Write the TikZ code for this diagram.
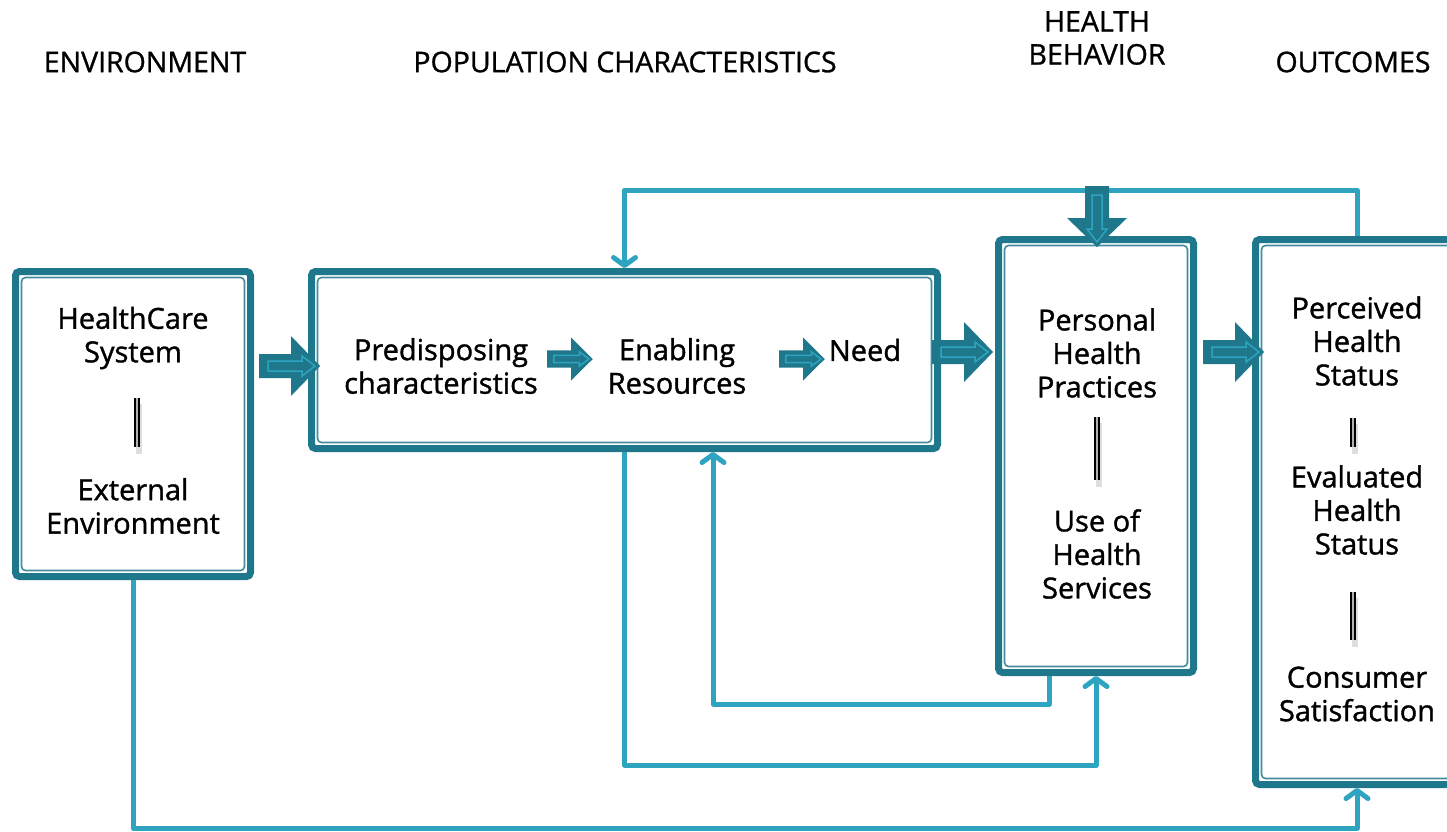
\documentclass[tikz,border=0pt]{standalone}
\usepackage{fontspec}
\setmainfont{Open Sans}
\usetikzlibrary{arrows.meta}
\definecolor{tealdark}{RGB}{31,119,139}
\definecolor{tealline}{RGB}{46,164,192}
\tikzset{
  % Framed panel: heavy rounded rim with a thin inner rule.
  panel/.style={
    rectangle, rounded corners=4pt,
    draw=tealdark, line width=7pt, fill=white,
    path picture={
      \draw[tealdark!85, line width=1.6pt]
        ([shift={(6pt,-6pt)}]path picture bounding box.north west) rectangle
        ([shift={(-6pt,6pt)}]path picture bounding box.south east);
    },
  },
  % Text inside the panels.
  paneltext/.style={
    align=center, inner sep=0pt,
    font=\fontsize{29}{33.5}\selectfont\addfontfeature{FakeBold=1.2},
  },
  % Column headings.
  heading/.style={
    align=center, inner sep=0pt,
    font=\fontsize{28.5}{33}\selectfont\addfontfeature{FakeBold=1},
  },
  % Thin feedback lines.
  feedback/.style={
    draw=tealline, line width=5pt, line join=round,
    -{Straight Barb[round, length=8pt, width=22pt]},
  },
  % Short double rules between items of a panel.
  divider/.style={draw=black, line width=2.4pt, double=black!30, double distance=1.6pt},
  divider shade/.style={draw=black!25, line width=6pt, opacity=0.5},
  % Fat block arrow with a hollow inner outline.
  pics/fatarrow/.style={code={
    \fill[tealdark] (0,-12) -- (32,-12) -- (32,-30) -- (61,0) -- (32,30) -- (32,12) -- (0,12) -- cycle;
    \draw[tealline, line width=1.5pt] (9,-5) -- (43,-5) -- (43,-10) -- (56,0)
      -- (43,10) -- (43,5) -- (9,5) -- cycle;
  }},
}
\begin{document}
\begin{tikzpicture}[x=1pt, y=-1pt]
  \path[use as bounding box, clip] (0,0) rectangle (1447,831);

  % Column headings.
  \node[heading] (envhead) at (145,62) {ENVIRONMENT};
  \node[heading] (pophead) at (625,62) {POPULATION CHARACTERISTICS};
  \node[heading] (behavhead) at (1097,38) {HEALTH\\BEHAVIOR};
  \node[heading] (outchead) at (1353,62) {OUTCOMES};

  % Panels.
  \node[panel, minimum width=235pt, minimum height=305pt] (env) at (133,424) {};
  \node[panel, minimum width=626pt, minimum height=177pt] (pop) at (624.5,360) {};
  \node[panel, minimum width=195pt, minimum height=433pt] (behav) at (1096,456) {};
  \node[panel, minimum width=260pt, minimum height=545pt, anchor=north west] (outc) at (1252,236) {};

  % Panel contents.
  \node[paneltext] (hcs) at (133,338) {HealthCare\\System};
  \node[paneltext] (ext) at (133,506) {External\\Environment};
  \node[paneltext] (pred) at (441,366) {Predisposing\\characteristics};
  \node[paneltext] (enab) at (677,366) {Enabling\\Resources};
  \node[paneltext] (need) at (865,350) {Need};
  \node[paneltext] (php) at (1097,353) {Personal\\Health\\Practices};
  \node[paneltext] (use) at (1097,554) {Use of\\Health\\Services};
  \node[paneltext] (perc) at (1357,341) {Perceived\\Health\\Status};
  \node[paneltext] (eval) at (1357,510) {Evaluated\\Health\\Status};
  \node[paneltext] (cons) at (1357,694) {Consumer\\Satisfaction};

  % Rails for the feedback loops.
  \coordinate (toprail) at (0,190);
  \coordinate (midrail) at (0,704);
  \coordinate (lowrail) at (0,765);
  \coordinate (baserail) at (0,828);

  \draw[feedback] (perc |- outc.north) -- (perc |- toprail) -| (pop.north);
  \draw[feedback] (env.south) |- (perc |- baserail) -- (perc |- outc.south);
  \draw[feedback] (pop.south) |- (behav.south |- lowrail) -- (behav.south);
  \draw[feedback] ([xshift=-47pt]behav.south) |- ([xshift=88.5pt]pop.south |- midrail)
    -- ([xshift=88.5pt]pop.south);

  % Block arrows.
  \pic at (259,366) {fatarrow};
  \pic at (932,352) {fatarrow};
  \pic at (1203,352) {fatarrow};
  \pic[rotate=-90] at (1097,186) {fatarrow};
  \pic[xscale=0.75, yscale=0.72] at (547,359) {fatarrow};
  \pic[xscale=0.75, yscale=0.72] at (779,359) {fatarrow};

  % Dividers.
  \foreach \x/\ya/\yb in {137/398/447, 1097/417/480, 1353/418/447, 1353/592/640} {
    \draw[divider shade] (\x+1.5,\ya+6) -- (\x+1.5,\yb+7);
    \draw[divider] (\x,\ya) -- (\x,\yb);
  }
\end{tikzpicture}
\end{document}
